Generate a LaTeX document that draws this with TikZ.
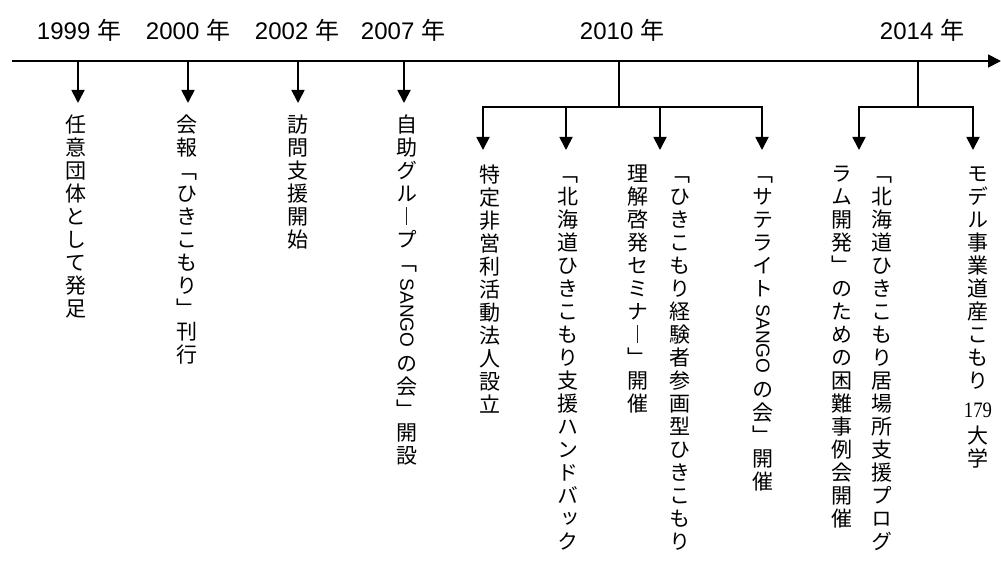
\documentclass[tikz,border=0pt]{standalone}
\usepackage{graphicx}
\usepackage{fontspec}
\setmainfont{Liberation Sans}
\newfontfamily\jp{Noto Sans CJK JP}
\newfontfamily\jpv[RawFeature=+vert]{Noto Sans CJK JP}
\newfontfamily\lser{Liberation Serif}
\usetikzlibrary{arrows.meta}
\newcommand\vs{\vphantom{国}}
\newcommand\sango{\raisebox{15pt}{\rotatebox{-90}{\fontspec{Liberation Sans}\fontsize{19}{19}\selectfont SANGO}}}
\newcommand\numb[1]{{\lser\fontsize{22}{22}\selectfont\scalebox{0.85}[1]{#1}}}
\begin{document}
\begin{tikzpicture}[x=1pt,y=-1pt,
  arr/.style={line width=1.8pt,-{Triangle[length=13pt,width=13pt]}},
  ln/.style={line width=1.8pt},
  yr/.style={font=\fontsize{24}{24}\selectfont, inner sep=0pt, anchor=base},
  vt/.style={font=\jpv\fontsize{21}{23}\selectfont, align=center, anchor=north, inner sep=0pt}]
\useasboundingbox (0,0) rectangle (1001,564);
\fill[white] (0,0) rectangle (1001,564);
% timeline
\coordinate (ts) at (12,61);
\coordinate (te) at (1001,61);
\draw[arr] (ts) -- (te);
% year labels
\node[yr] (y1999) at (79,40) {1999 {\jp 年}};
\node[yr] (y2000) at (188,40) {2000 {\jp 年}};
\node[yr] (y2002) at (297,40) {2002 {\jp 年}};
\node[yr] (y2007) at (403,40) {2007 {\jp 年}};
\node[yr] (y2010) at (622,40) {2010 {\jp 年}};
\node[yr] (y2014) at (922,40) {2014 {\jp 年}};
% points on timeline
\coordinate (t1999) at (78,61);
\coordinate (t2000) at (188,61);
\coordinate (t2002) at (298,61);
\coordinate (t2007) at (404,61);
\coordinate (t2010) at (619,61);
\coordinate (t2014) at (918,61);
% branch bars
\coordinate (b2010) at (619,107);
\coordinate (b2010a) at (483,107);
\coordinate (b2010b) at (566,107);
\coordinate (b2010c) at (660,107);
\coordinate (b2010d) at (762,107);
\coordinate (b2014) at (918,107);
\coordinate (b2014a) at (859,107);
\coordinate (b2014b) at (973,107);
% event texts
\node[vt] (e1999) at (76,115) {\vs{}任\\意\\団\\体\\と\\し\\て\\発\\足};
\node[vt] (e2000) at (187,115) {\vs{}会\\報\\﹁\\ひ\\き\\こ\\も\\り\\﹂\\刊\\行};
\node[vt] (e2002) at (298,115) {\vs{}訪\\問\\支\\援\\開\\始};
\node[vt] (e2007) at (407,115) {\vs{}自\\助\\グ\\ル\\︱\\プ\\﹁\\\sango\\[8pt]の\\会\\﹂\\開\\設};
\node[vt] (e2010a) at (490,165) {\vs{}特\\定\\非\\営\\利\\活\\動\\法\\人\\設\\立};
\node[vt] (e2010b) at (568,165) {\vs{}﹁\\北\\海\\道\\ひ\\き\\こ\\も\\り\\支\\援\\ハ\\ン\\ド\\バ\\ッ\\ク};
\node[vt] (e2010c1) at (680,165) {\vs{}﹁\\ひ\\き\\こ\\も\\り\\経\\験\\者\\参\\画\\型\\ひ\\き\\こ\\も\\り};
\node[vt] (e2010c2) at (638,165) {\vs{}理\\解\\啓\\発\\セ\\ミ\\ナ\\︱\\﹂\\開\\催};
\node[vt] (e2010d) at (763,165) {\vs{}﹁\\サ\\テ\\ラ\\イ\\ト\\\sango\\[8pt]の\\会\\﹂\\開\\催};
\node[vt] (e2014a1) at (882,165) {\vs{}﹁\\北\\海\\道\\ひ\\き\\こ\\も\\り\\居\\場\\所\\支\\援\\プ\\ロ\\グ};
\node[vt] (e2014a2) at (842,165) {\vs{}ラ\\ム\\開\\発\\﹂\\の\\た\\め\\の\\困\\難\\事\\例\\会\\開\\催};
\node[vt] (e2014b) at (978,165) {\vs{}モ\\デ\\ル\\事\\業\\道\\産\\こ\\も\\り\\[6pt]\numb{179}\\[3pt]大\\学};
% single arrows
\draw[arr, shorten >=12pt] (t1999) -- (t1999 |- e1999.north);
\draw[arr, shorten >=12pt] (t2000) -- (t2000 |- e2000.north);
\draw[arr, shorten >=12pt] (t2002) -- (t2002 |- e2002.north);
\draw[arr, shorten >=12pt] (t2007) -- (t2007 |- e2007.north);
% 2010 branch
\draw[ln] (t2010) -- (b2010);
\draw[ln, line cap=rect] (b2010a) -- (b2010d);
\draw[arr, shorten >=15pt] (b2010a) -- (b2010a |- e2010a.north);
\draw[arr, shorten >=15pt] (b2010b) -- (b2010b |- e2010b.north);
\draw[arr, shorten >=15pt] (b2010c) -- (b2010c |- e2010c1.north);
\draw[arr, shorten >=15pt] (b2010d) -- (b2010d |- e2010d.north);
% 2014 branch
\draw[ln] (t2014) -- (b2014);
\draw[ln, line cap=rect] (b2014a) -- (b2014b);
\draw[arr, shorten >=15pt] (b2014a) -- (b2014a |- e2014a1.north);
\draw[arr, shorten >=15pt] (b2014b) -- (b2014b |- e2014b.north);
\end{tikzpicture}
\end{document}
